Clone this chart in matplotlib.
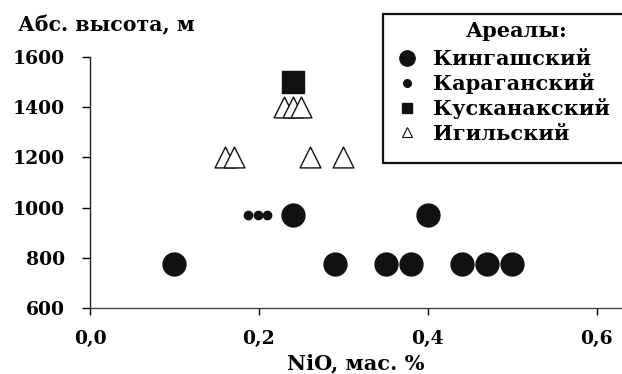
import matplotlib
matplotlib.use("Agg")
from matplotlib import pyplot as plt
from matplotlib.lines import Line2D
from matplotlib.patches import Rectangle

plt.rcParams['font.family'] = ['DejaVu Serif']
plt.rcParams['font.weight'] = 'bold'

# Кингашский ареал
kingash_x = [0.10, 0.29, 0.35, 0.38, 0.44, 0.47, 0.50, 0.24, 0.40]
kingash_y = [775, 775, 775, 775, 775, 775, 775, 970, 970]

# Караганский ареал
karagan_x = [0.187, 0.199, 0.21]
karagan_y = [970, 970, 970]

# Кусканакский ареал
kuskanak_x = [0.24]
kuskanak_y = [1500]

# Игильский ареал
igil_x = [0.23, 0.24, 0.25, 0.16, 0.17, 0.26, 0.30]
igil_y = [1400, 1400, 1400, 1200, 1200, 1200, 1200]

xticks = [0.0, 0.2, 0.4, 0.6]
xtick_labels = ["0,0", "0,2", "0,4", "0,6"]
yticks = [600, 800, 1000, 1200, 1400, 1600]

W, H = 622, 374
fig = plt.figure(figsize=(W / 100, H / 100), dpi=100)
ax = fig.add_axes([90 / W, 66 / H, 532 / W, 251 / H])

ax.scatter(kingash_x, kingash_y, s=16.5 ** 2, c='#111111', marker='o', zorder=3)
ax.scatter(karagan_x, karagan_y, s=6 ** 2, c='#111111', marker='o', zorder=3)
ax.scatter(kuskanak_x, kuskanak_y, s=16.5 ** 2, c='#111111', marker='s', zorder=3)
ax.scatter(igil_x, igil_y, s=15 ** 2, facecolors='white', edgecolors='#111111',
           marker='^', linewidths=1.0, zorder=3)

ax.set_xlim(0, 0.63)
ax.set_ylim(600, 1600)
ax.set_xticks(xticks)
ax.set_xticklabels(xtick_labels)
ax.set_yticks(yticks)

for side in ['top', 'right']:
    ax.spines[side].set_visible(False)
ax.spines['left'].set_color('#222222')
ax.spines['bottom'].set_color('#444444')
ax.spines['left'].set_linewidth(1.0)
ax.spines['bottom'].set_linewidth(1.0)

ax.tick_params(axis='y', direction='out', length=6, width=1, pad=12, labelsize=13.5)
ax.tick_params(axis='x', direction='out', length=5, width=1, pad=11, labelsize=13.5)

ax.set_xlabel("NiO, мас. %", fontsize=15, fontweight='bold', labelpad=4)
fig.text(18 / W, 1 - 25 / H, "Абс. высота, м", fontsize=14.8, fontweight='bold',
         ha='left', va='center')

# рамка легенды уходит за правый край
fig.patches.append(Rectangle((383 / W, 1 - 163 / H), 260 / W, 149 / H,
                             transform=fig.transFigure, facecolor='white',
                             edgecolor='#111111', linewidth=1.6, zorder=4))
fig.text(517 / W, 1 - 31 / H, "Ареалы:", fontsize=15, fontweight='bold',
         ha='center', va='center', zorder=6)

handles = [
    Line2D([], [], ls='none', marker='o', ms=11, color='#111111'),
    Line2D([], [], ls='none', marker='o', ms=5.5, color='#111111'),
    Line2D([], [], ls='none', marker='s', ms=6.5, color='#111111'),
    Line2D([], [], ls='none', marker='^', ms=7.5, mfc='white', mec='#111111', mew=0.8),
]
labels = ["Кингашский", "Караганский", "Кусканакский", "Игильский"]
leg = fig.legend(handles, labels, loc='upper left',
                 bbox_to_anchor=(397 / W, 1 - 49 / H), frameon=False,
                 prop={'size': 15, 'weight': 'bold'}, handlelength=1.0,
                 handletextpad=0.75, labelspacing=0.2, borderpad=0,
                 borderaxespad=0)
leg.set_zorder(6)

fig.savefig("out.png", dpi=100)
